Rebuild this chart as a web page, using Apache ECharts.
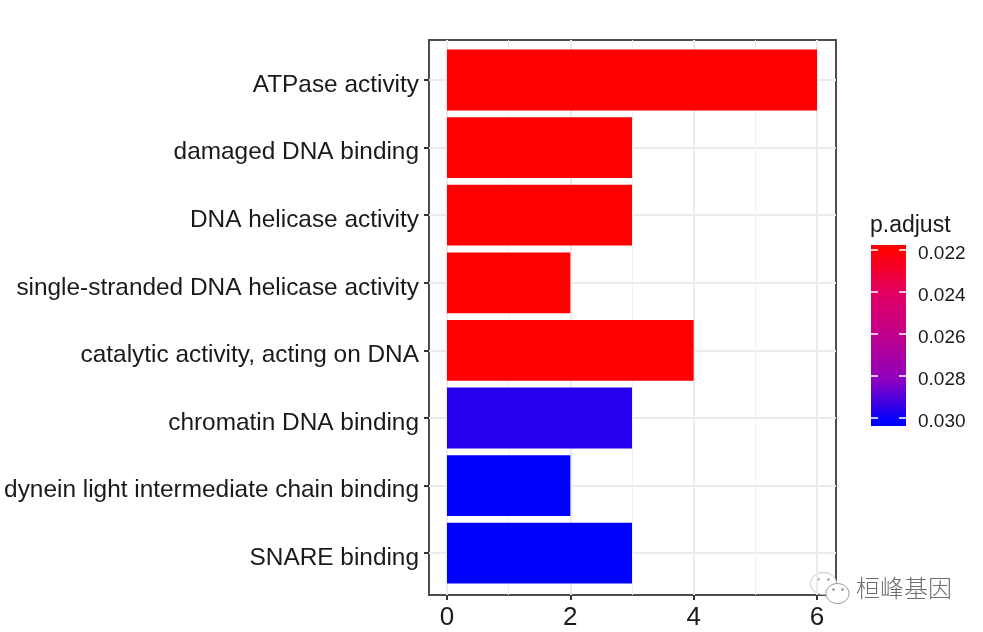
<!DOCTYPE html>
<html>
<head>
<meta charset="utf-8">
<style>html,body{margin:0;padding:0;background:#fff}#c{width:983px;height:632px}</style>
<script src="https://cdn.jsdelivr.net/npm/echarts@6/dist/echarts.min.js"></script>
</head>
<body>
<div id="c"></div>
<script>
const categories = ['ATPase activity','damaged DNA binding','DNA helicase activity','single-stranded DNA helicase activity','catalytic activity, acting on DNA','chromatin DNA binding','dynein light intermediate chain binding','SNARE binding'];
const counts = [6,3,3,2,4,3,2,3];
const pAdjust = [0.022,0.022,0.022,0.022,0.022,0.0295,0.0301,0.0301];
const xMajorTicks = [0,2,4,6];
const xMinorTicks = [1,3,5];
const legendTicks = [0.022,0.024,0.026,0.028,0.030];
const palette = ['#ff0000','#e3005f','#c0008c','#8e00bf','#0000ff'];

const chart = echarts.init(document.getElementById('c'), null, {renderer:'canvas'});
const font = '"Liberation Sans", Arial, sans-serif';
const xRange = {min:-0.292, max:6.308};
const hiddenX = {show:false, type:'value', ...xRange};
const noLine = {show:false, onZero:false};
chart.setOption({
  backgroundColor:'#fff',
  animation:false,
  title:{text:'p.adjust', left:865, top:209, textStyle:{fontFamily:font, fontSize:23, fontWeight:'normal', color:'#1a1a1a'}},
  grid:[
    {left:429, top:40, width:407, height:555, show:true, borderColor:'#4d4d4d', borderWidth:2, backgroundColor:'transparent', z:0},
    {left:429, top:46.2, width:407, height:540.8},
    {left:871, top:245, width:35, height:181, show:true, borderWidth:0, backgroundColor:new echarts.graphic.LinearGradient(0,0,0,1,[
      {offset:0.025,color:palette[0]},{offset:0.256,color:palette[1]},{offset:0.5,color:palette[2]},{offset:0.744,color:palette[3]},{offset:0.975,color:palette[4]}
    ])}
  ],
  xAxis:[
    {type:'value', gridIndex:0, ...xRange, axisLine:noLine,
      axisTick:{show:true, length:5, customValues:xMajorTicks, lineStyle:{color:'#333', width:2}},
      axisLabel:{customValues:xMajorTicks, margin:10, fontSize:26, fontFamily:font, color:'#1a1a1a', hideOverlap:false, showMinLabel:true, showMaxLabel:true},
      splitLine:{show:true, lineStyle:{color:'#ebebeb', width:2}}},
    {type:'value', gridIndex:0, ...xRange, axisLine:noLine,
      axisTick:{show:false, customValues:xMinorTicks}, axisLabel:{show:false},
      splitLine:{show:true, lineStyle:{color:'#f1f1f1', width:1}}},
    {...hiddenX, gridIndex:1},
    {show:false, type:'value', gridIndex:2, min:0, max:1, splitLine:{show:false}}
  ],
  yAxis:[
    {type:'value', gridIndex:0, show:false, min:0, max:1, splitLine:{show:false}},
    {type:'category', gridIndex:1, inverse:true, data:categories,
      axisLine:noLine,
      axisTick:{show:true, alignWithLabel:true, length:5, lineStyle:{color:'#333', width:2}},
      axisLabel:{margin:10, verticalAlign:'top', lineHeight:10, fontSize:24.4, fontFamily:font, color:'#1a1a1a', interval:0},
      splitLine:{show:true, alignWithLabel:true, interval:0, lineStyle:{color:'#ebebeb', width:2}}},
    {type:'value', gridIndex:2, inverse:true, position:'right', min:0.02179, max:0.03038,
      axisLine:noLine,
      axisTick:{show:true, inside:true, length:7, customValues:legendTicks, lineStyle:{color:'#fff', width:1.5}},
      axisLabel:{inside:false, margin:12, verticalAlign:'top', lineHeight:8, customValues:legendTicks, fontSize:19, fontFamily:font, color:'#1a1a1a', formatter:v=>v.toFixed(3), showMinLabel:true, showMaxLabel:true},
      splitLine:{show:false}},
    {type:'value', gridIndex:2, inverse:true, position:'left', min:0.02179, max:0.03038,
      axisLine:noLine,
      axisTick:{show:true, inside:true, length:7, customValues:legendTicks, lineStyle:{color:'#fff', width:1.5}},
      axisLabel:{show:false}, splitLine:{show:false}}
  ],
  visualMap:{show:false, seriesIndex:0, dimension:2, min:0.022, max:0.030, inRange:{color:palette}},
  series:[{
    type:'bar', xAxisIndex:2, yAxisIndex:1, barCategoryGap:'10%', z:3,
    encode:{x:0,y:1},
    data:categories.map((c,i)=>[counts[i],c,pAdjust[i]])
  }],
  graphic:[
    {type:'text', left:856, top:576, z:10, style:{text:'桓峰基因', fontFamily:'"Noto Sans CJK SC"', fontSize:24, fontWeight:300, fill:'#6e6e6e'}},
    {type:'group', left:810, top:572, z:10, children:[
      {type:'ellipse', shape:{cx:13,cy:11,rx:13,ry:11}, style:{fill:'#fff', stroke:'#c4c4c4', lineWidth:1}},
      {type:'circle', shape:{cx:8,cy:7,r:1.2}, style:{fill:'#999'}},
      {type:'circle', shape:{cx:18,cy:7,r:1.2}, style:{fill:'#999'}},
      {type:'ellipse', shape:{cx:27,cy:21,rx:11.5,ry:10}, style:{fill:'#fff', stroke:'#9a9a9a', lineWidth:1}},
      {type:'circle', shape:{cx:23,cy:17,r:1.2}, style:{fill:'#888'}},
      {type:'circle', shape:{cx:32,cy:17,r:1.2}, style:{fill:'#888'}}
    ]}
  ]
});
</script>
</body>
</html>
